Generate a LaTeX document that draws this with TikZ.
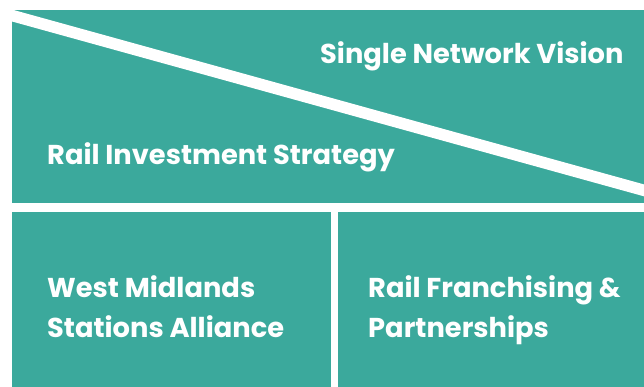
\documentclass[tikz,border=0pt]{standalone}
\usepackage{fontspec}
\setmainfont{Poppins}
\definecolor{teal}{HTML}{3BA99C}
\begin{document}
\begin{tikzpicture}[x=1pt,y=-1pt,
  panel/.style={fill=teal,draw=none},
  label/.style={text=white,font=\fontsize{27.3}{40}\selectfont\bfseries,inner sep=0pt,anchor=base west,align=left}]
\useasboundingbox (0,0) rectangle (644,387);
% top panel split by a white diagonal
\begin{scope}
  \clip (12,10) rectangle (650,203);
  \fill[panel] (12,10) rectangle (650,203);
  \coordinate (d1) at (0,12.2);
  \coordinate (d2) at (660,194.8);
  \draw[white,line width=11.5pt] (d1) -- (d2);
\end{scope}
% lower panels
\fill[panel] (12,212) rectangle (330.5,392);
\fill[panel] (337.5,212) rectangle (650,392);
\node[label] (vision) at (320,64) {Single Network Vision};
\node[label] (strategy) at (47,165) {Rail Investment Strategy};
\node[label] (alliance) at (47,337) {West Midlands\\Stations Alliance};
\node[label] (franchise) at (368,337) {Rail Franchising \&\\Partnerships};
\end{tikzpicture}
\end{document}
